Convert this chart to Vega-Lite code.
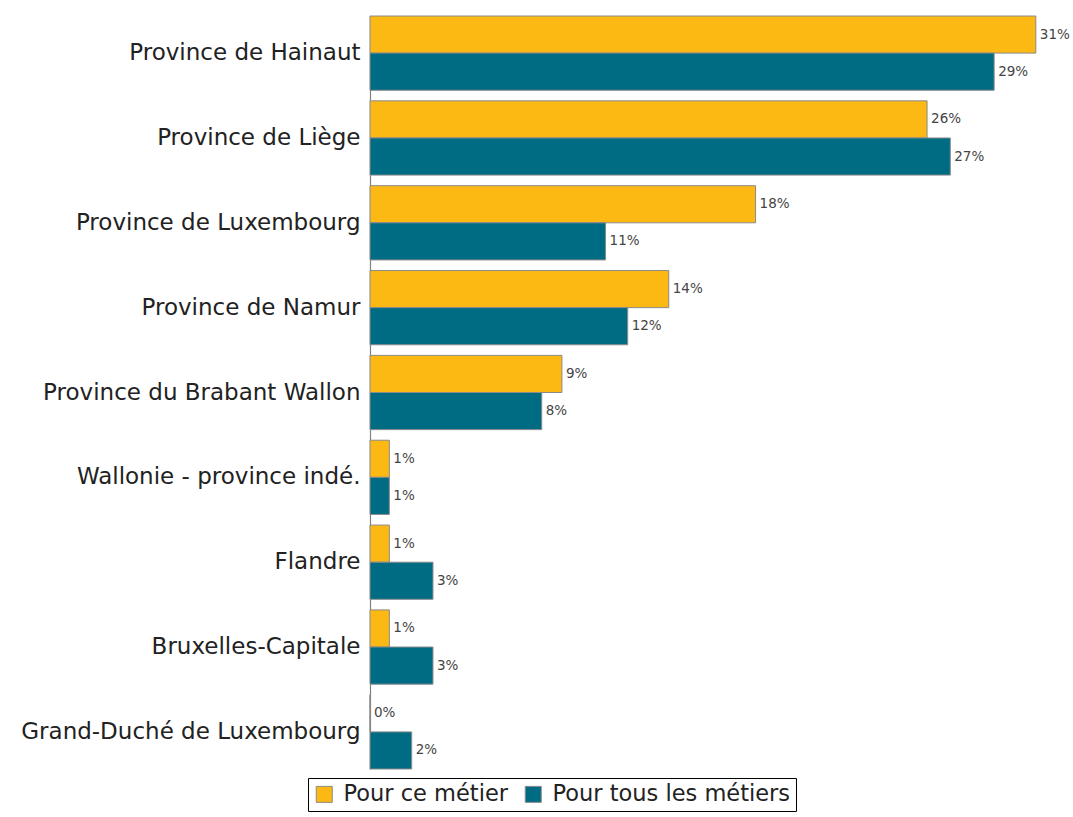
{
  "$schema": "https://vega.github.io/schema/vega-lite/v6.json",
  "autosize": {"type": "none"},
  "width": 677,
  "height": 753,
  "padding": {"left": 370, "top": 16, "right": 26, "bottom": 48},
  "background": "white",
  "config": {
    "view": {"stroke": null},
    "font": "DejaVu Sans"
  },
  "data": {
    "values": [
      {"region": "Province de Hainaut", "serie": "Pour ce métier", "pct": 30.98, "label": "31%"},
      {"region": "Province de Hainaut", "serie": "Pour tous les métiers", "pct": 29.04, "label": "29%"},
      {"region": "Province de Liège", "serie": "Pour ce métier", "pct": 25.92, "label": "26%"},
      {"region": "Province de Liège", "serie": "Pour tous les métiers", "pct": 27.0, "label": "27%"},
      {"region": "Province de Luxembourg", "serie": "Pour ce métier", "pct": 17.94, "label": "18%"},
      {"region": "Province de Luxembourg", "serie": "Pour tous les métiers", "pct": 10.96, "label": "11%"},
      {"region": "Province de Namur", "serie": "Pour ce métier", "pct": 13.9, "label": "14%"},
      {"region": "Province de Namur", "serie": "Pour tous les métiers", "pct": 11.99, "label": "12%"},
      {"region": "Province du Brabant Wallon", "serie": "Pour ce métier", "pct": 8.93, "label": "9%"},
      {"region": "Province du Brabant Wallon", "serie": "Pour tous les métiers", "pct": 7.99, "label": "8%"},
      {"region": "Wallonie - province indé.", "serie": "Pour ce métier", "pct": 0.9, "label": "1%"},
      {"region": "Wallonie - province indé.", "serie": "Pour tous les métiers", "pct": 0.9, "label": "1%"},
      {"region": "Flandre", "serie": "Pour ce métier", "pct": 0.9, "label": "1%"},
      {"region": "Flandre", "serie": "Pour tous les métiers", "pct": 2.93, "label": "3%"},
      {"region": "Bruxelles-Capitale", "serie": "Pour ce métier", "pct": 0.9, "label": "1%"},
      {"region": "Bruxelles-Capitale", "serie": "Pour tous les métiers", "pct": 2.93, "label": "3%"},
      {"region": "Grand-Duché de Luxembourg", "serie": "Pour ce métier", "pct": 0, "label": "0%"},
      {"region": "Grand-Duché de Luxembourg", "serie": "Pour tous les métiers", "pct": 1.94, "label": "2%"}
    ]
  },
  "encoding": {
    "y": {
      "field": "region",
      "type": "nominal",
      "sort": null,
      "scale": {"paddingInner": 0.125, "paddingOuter": 0},
      "axis": {
        "title": null,
        "labelFontSize": 23,
        "labelColor": "#222",
        "labelPadding": 10,
        "labelLimit": 400,
        "ticks": false,
        "domainColor": "#808080",
        "domainWidth": 1.2
      }
    },
    "yOffset": {
      "field": "serie",
      "type": "nominal",
      "sort": ["Pour ce métier", "Pour tous les métiers"],
      "scale": {"paddingInner": 0, "paddingOuter": 0}
    },
    "x": {
      "field": "pct",
      "type": "quantitative",
      "scale": {"domain": [0, 31.5], "nice": false, "zero": true},
      "axis": null
    }
  },
  "layer": [
    {
      "mark": {"type": "bar", "stroke": "#8a8a8a", "strokeWidth": 1, "cornerRadius": 0},
      "encoding": {
        "color": {
          "field": "serie",
          "type": "nominal",
          "scale": {"domain": ["Pour ce métier", "Pour tous les métiers"], "range": ["#FDB913", "#006C84"]},
          "legend": {
            "title": null,
            "orient": "none",
            "legendX": -62,
            "legendY": 762,
            "direction": "horizontal",
            "columns": 2,
            "symbolType": "square",
            "symbolSize": 256,
            "symbolStrokeColor": "#8a8a8a",
            "symbolStrokeWidth": 1,
            "labelFontSize": 22.5,
            "labelLimit": 400,
            "labelColor": "#222",
            "labelOffset": 8,
            "columnPadding": 14,
            "strokeColor": "black",
            "padding": 5
          }
        }
      }
    },
    {
      "mark": {"type": "text", "align": "left", "baseline": "middle", "dx": 4, "fontSize": 13.5, "fill": "#444"},
      "encoding": {
        "text": {"field": "label", "type": "nominal"}
      }
    }
  ]
}
